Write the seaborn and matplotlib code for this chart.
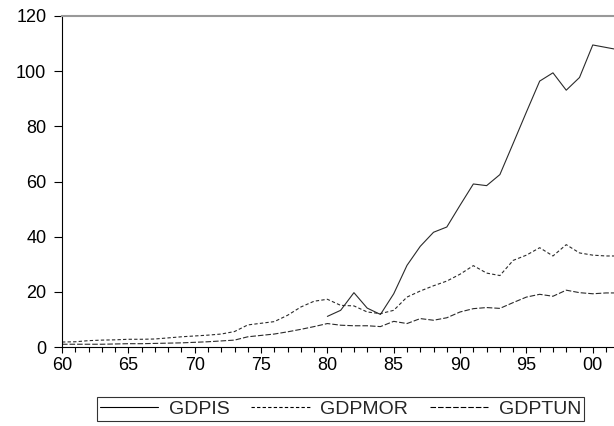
import numpy as np
import pandas as pd
import matplotlib
matplotlib.use("Agg")
import matplotlib.pyplot as plt
from matplotlib.ticker import MultipleLocator, FuncFormatter
import seaborn as sns

years = list(range(1960, 2003))

gdpis_years = list(range(1980, 2003))
gdpis = [11.1, 13.3, 19.7, 14.1, 11.8, 19.3, 29.6, 36.5, 41.6, 43.5, 51.4, 59.1,
         58.5, 62.5, 73.8, 85.2, 96.4, 99.4, 93.1, 97.7, 109.5, 108.6, 107.7]

gdpmor = [1.8, 1.9, 2.3, 2.5, 2.6, 2.8, 2.8, 2.9, 3.3, 3.7, 4.0, 4.3, 4.7, 5.6,
          8.0, 8.6, 9.2, 11.5, 14.5, 16.6, 17.3, 15.1, 14.9, 12.7, 12.1, 13.3,
          18.1, 20.3, 22.2, 23.9, 26.4, 29.5, 26.8, 25.9, 31.4, 33.3, 36.0, 33.0,
          37.1, 34.1, 33.3, 33.0, 33.0]

gdptun = [1.0, 1.0, 1.0, 1.0, 1.1, 1.2, 1.2, 1.3, 1.4, 1.5, 1.7, 1.9, 2.2, 2.5,
          3.7, 4.2, 4.7, 5.5, 6.4, 7.4, 8.5, 7.9, 7.7, 7.7, 7.4, 9.3, 8.5, 10.3,
          9.7, 10.6, 12.7, 13.9, 14.3, 14.0, 16.1, 18.1, 19.1, 18.4, 20.6, 19.7,
          19.3, 19.6, 19.6]

series_names = ["GDPIS", "GDPMOR", "GDPTUN"]
y_ticks = [0, 20, 40, 60, 80, 100, 120]

df = pd.concat([
    pd.DataFrame({"year": gdpis_years, "value": gdpis, "series": "GDPIS"}),
    pd.DataFrame({"year": years, "value": gdpmor, "series": "GDPMOR"}),
    pd.DataFrame({"year": years, "value": gdptun, "series": "GDPTUN"}),
], ignore_index=True)

sns.set_theme(style="white")
plt.rcParams["font.family"] = ["Liberation Sans", "DejaVu Sans"]

fig = plt.figure(figsize=(6.14, 4.26), dpi=100)
ax = fig.add_axes([62 / 614, 79 / 426, 1 - 62 / 614, (347 - 16) / 426])

dash_map = {"GDPIS": "", "GDPMOR": (3.0, 2.0), "GDPTUN": (5.0, 1.8)}
sns.lineplot(data=df, x="year", y="value", style="series", dashes=dash_map,
             style_order=series_names, color="#2a2a2a", linewidth=0.8,
             ax=ax, legend=True)

handles, labels = ax.get_legend_handles_labels()
ax.get_legend().remove()

ax.set_xlim(1960, 2001.6)
ax.set_ylim(0, 120)
ax.set_yticks(y_ticks)
ax.xaxis.set_major_locator(MultipleLocator(5))
ax.xaxis.set_minor_locator(MultipleLocator(1))
ax.xaxis.set_major_formatter(FuncFormatter(lambda v, p: f"{int(round(v)) % 100:02d}"))
ax.set_xlabel("")
ax.set_ylabel("")

ax.tick_params(axis="y", which="major", labelsize=13, colors="black",
               length=5.8, width=0.8, direction="out", pad=5.5, left=True)
ax.tick_params(axis="x", which="major", labelsize=13, colors="black",
               length=4.2, width=0.8, direction="out", pad=3.0, bottom=True)
ax.tick_params(axis="x", which="minor", length=3.8, width=0.8, direction="out",
               bottom=True, colors="black")

for side in ["left", "bottom"]:
    ax.spines[side].set_color("black")
    ax.spines[side].set_linewidth(0.8)
ax.spines["top"].set_color("#999999")
ax.spines["top"].set_linewidth(1.5)
ax.spines["right"].set_visible(False)

leg = fig.legend(handles, labels, loc="center", bbox_to_anchor=(0.5546, 0.040),
                 ncol=3, frameon=True, fancybox=False, fontsize=14,
                 handlelength=3.0, handletextpad=0.55, columnspacing=1.1,
                 borderpad=0.15, borderaxespad=0)
leg.get_frame().set_edgecolor("black")
leg.get_frame().set_linewidth(0.8)
for line in leg.get_lines():
    line.set_color("black")
    line.set_linewidth(0.8)

fig.savefig("out.png", dpi=100)
